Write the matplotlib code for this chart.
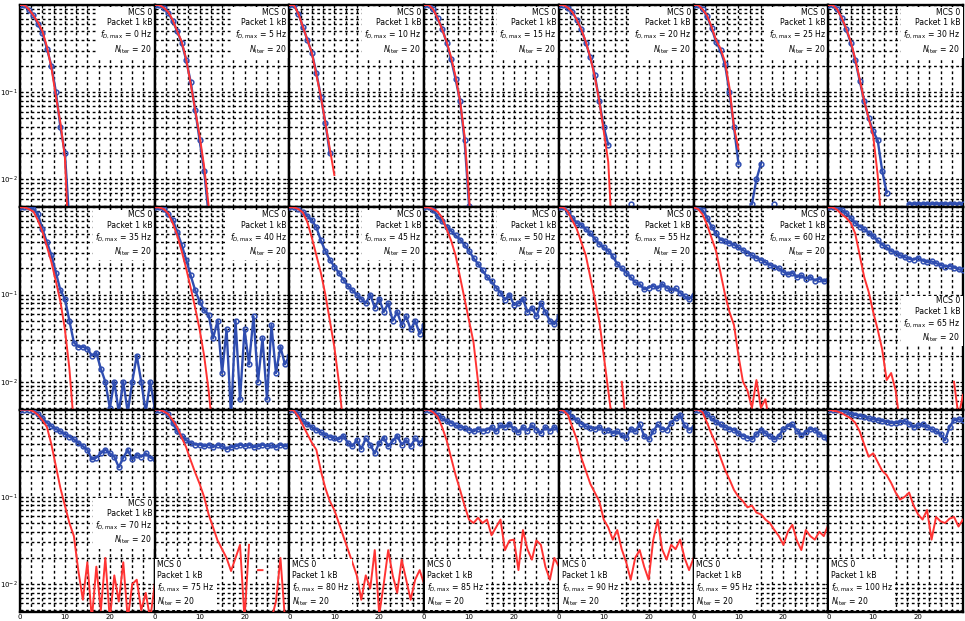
import numpy as np
import matplotlib
matplotlib.use("Agg")
import matplotlib.pyplot as plt
from matplotlib.ticker import MultipleLocator, LogLocator, NullFormatter, FixedLocator

# ==========================
# Data (log10 of packet error rate)
# ==========================

snr_db = list(range(0, 31))
doppler_hz = [0, 5, 10, 15, 20, 25, 30,
              35, 40, 45, 50, 55, 60, 65,
              70, 75, 80, 85, 90, 95, 100]
nan = float("nan")

red_00 = [0, 0, -0.05, -0.12, -0.2, -0.3, -0.48, -0.72, -1.05, -1.35, -1.75, -2.9]
blue_00 = [0, 0, -0.06, -0.12, -0.22, -0.32, -0.5, -0.7, -1.0, -1.4, -1.7, -2.5]
red_05 = [0, 0, -0.03, -0.08, -0.17, -0.3, -0.42, -0.62, -0.9, -1.2, -1.5, -1.85, -2.3, -2.9]
blue_05 = [0, 0, -0.03, -0.09, -0.18, -0.3, -0.43, -0.63, -0.88, -1.2, -1.55, -1.9, -2.4]
red_10 = [0, 0, -0.1, -0.25, -0.4, -0.55, -0.8, -1.05, -1.35, -1.65, -1.95]
blue_10 = [0, 0, -0.1, -0.25, -0.4, -0.55, -0.78, -1.05, -1.35, -1.7]
red_15 = [0, 0, -0.05, -0.15, -0.28, -0.42, -0.6, -0.82, -1.1, -1.5, -2.2, -3.0]
blue_15 = [0, 0, -0.05, -0.15, -0.27, -0.43, -0.62, -0.85, -1.1, -1.55, -2.3]
red_20 = [0, 0, -0.03, -0.08, -0.17, -0.28, -0.42, -0.6, -0.82, -1.1, -1.45, -1.8, -2.8]
blue_20 = [0, 0, -0.03, -0.08, -0.17, -0.28, -0.43, -0.6, -0.8, -1.1, -1.4, -1.6,
           nan, nan, nan, nan, -2.28]
red_25 = [0, 0, -0.05, -0.12, -0.25, -0.4, -0.5, -0.65, -0.95, -1.4, -1.65]
blue_25 = [0, 0, -0.05, -0.13, -0.26, -0.42, -0.52, -0.68, -1.0, -1.4, -1.82,
           nan, nan, -2.28, -2.0, -1.82, nan, nan, -2.28]
red_30 = [0, 0, -0.05, -0.15, -0.27, -0.42, -0.62, -0.85, -1.1, -1.3, -1.5, -1.95, -2.6]
blue_30 = [0, 0, -0.05, -0.15, -0.28, -0.43, -0.63, -0.87, -1.1, -1.3, -1.45, -1.55, -1.9, -2.15,
           nan, nan, nan, nan, -2.28, -2.28, -2.28, -2.28, -2.28, -2.28, -2.28, -2.28,
           -2.28, -2.28, -2.28, -2.28, -2.28]

red_35 = [0, 0, -0.02, -0.05, -0.15, -0.28, -0.45, -0.63, -0.85, -1.08, -1.4, -1.85, -2.5]
blue_35 = [0, 0, 0, -0.02, -0.08, -0.25, -0.4, -0.55, -0.75, -0.95, -1.05, -1.3, -1.55, -1.6,
           -1.6, -1.62, -1.7, -1.67, -1.85, -2.0, -2.3, -2.0, -2.35, -2.0, -2.35, -2.0,
           -1.7, -2.0, -2.35, -2.0, -2.3]
red_40 = [0, 0, -0.02, -0.07, -0.18, -0.32, -0.5, -0.7, -0.92, -1.15, -1.4, -1.7, -2.1, -2.6]
blue_40 = [0, 0, -0.02, -0.08, -0.14, -0.28, -0.43, -0.6, -0.78, -0.95, -1.08, -1.18, -1.23,
           -1.5, -1.3, -1.9, -1.4, -2.4, -1.3, -2.2, -1.4, -1.8, -1.25, -2.0, -1.5, -2.2,
           -1.35, -1.9, -1.6, -1.8, -1.7]
red_45 = [0, 0, -0.02, -0.06, -0.17, -0.35, -0.55, -0.75, -1.0, -1.3, -1.6, -2.0, -2.5]
blue_45 = [0, 0, -0.02, -0.05, -0.1, -0.15, -0.23, -0.38, -0.5, -0.6, -0.68, -0.75, -0.83,
           -0.9, -0.95, -1.0, -1.05, -1.1, -1.0, -1.15, -1.05, -1.2, -1.1, -1.3, -1.2,
           -1.35, -1.25, -1.4, -1.3, -1.45, -1.35]
red_50 = [0, 0, -0.02, -0.05, -0.12, -0.25, -0.38, -0.55, -0.8, -1.05, -1.3, -1.55, -2.0, -2.5]
blue_50 = [0, 0, -0.03, -0.1, -0.16, -0.22, -0.27, -0.32, -0.37, -0.43, -0.5, -0.58, -0.65,
           -0.72, -0.8, -0.85, -0.92, -0.98, -1.06, -1.0, -1.12, -1.1, -1.05, -1.2, -1.15,
           -1.25, -1.1, -1.2, -1.3, -1.34, -1.25]
red_55 = [0, 0, -0.05, -0.15, -0.25, -0.4, -0.55, -0.8, -1.05, -1.3, -1.7, -2.1, -2.5,
          nan, -2.0, -2.5]
blue_55 = [0, 0, -0.05, -0.12, -0.18, -0.2, -0.25, -0.3, -0.36, -0.42, -0.46, -0.5, -0.56,
           -0.65, -0.7, -0.75, -0.8, -0.86, -0.88, -0.94, -0.92, -0.9, -0.93, -0.88, -0.92,
           -0.95, -0.93, -0.98, -1.02, -1.05, -1.0]
red_60 = [0, -0.02, -0.08, -0.2, -0.35, -0.5, -0.75, -1.0, -1.2, -1.35, -1.7, -2.0, -2.1,
          -2.3, -1.98, -2.3, -2.2, -2.5]
blue_60 = [0, 0, -0.03, -0.12, -0.22, -0.3, -0.37, -0.39, -0.41, -0.43, -0.46, -0.49, -0.52,
           -0.55, -0.58, -0.6, -0.63, -0.66, -0.68, -0.7, -0.74, -0.77, -0.75, -0.8, -0.78,
           -0.82, -0.8, -0.84, -0.82, -0.85, -0.83]
red_65 = [0, 0, -0.03, -0.08, -0.12, -0.18, -0.3, -0.55, -0.8, -0.97, -1.2, -1.4, -1.63,
          -1.98, -1.9, -2.1, -2.5, nan, nan, nan, nan, nan, nan, nan, nan, nan, nan, nan,
          -2.0, -2.4, -2.15]
blue_65 = [0, 0, 0, -0.03, -0.07, -0.12, -0.18, -0.22, -0.25, -0.29, -0.33, -0.38, -0.43,
           -0.46, -0.5, -0.52, -0.55, -0.57, -0.59, -0.6, -0.58, -0.61, -0.63, -0.62, -0.64,
           -0.66, -0.68, -0.67, -0.69, -0.71, -0.72]

red_70 = [0, 0, 0, -0.02, -0.06, -0.12, -0.2, -0.4, -0.65, -0.9, -1.1, -1.3, -1.45, -1.85,
          -2.18, -1.75, -2.4, -1.8, -2.3, -1.7, -2.4, -1.9, -2.2, -1.75, -2.4, -2.0, -1.95,
          -2.3, -2.1, -2.4, -2.0]
blue_70 = [0, 0, 0, -0.01, -0.05, -0.1, -0.15, -0.19, -0.22, -0.25, -0.28, -0.31, -0.34,
           -0.38, -0.42, -0.46, -0.57, -0.55, -0.5, -0.46, -0.5, -0.54, -0.66, -0.55, -0.46,
           -0.57, -0.52, -0.54, -0.5, -0.55, -0.57]
red_75 = [0, 0, -0.02, -0.05, -0.12, -0.2, -0.32, -0.43, -0.58, -0.72, -0.85, -1.0, -1.2,
          -1.35, -1.5, -1.6, -1.7, -1.85, -1.7, -1.55, -2.4, -1.55, nan, -1.84, -1.84, nan,
          -2.4, -2.2, -1.7, -2.4]
blue_75 = [0, 0, -0.01, -0.05, -0.15, -0.25, -0.3, -0.35, -0.38, -0.4, -0.4, -0.42, -0.4,
           -0.43, -0.4, -0.42, -0.45, -0.43, -0.42, -0.4, -0.42, -0.4, -0.43, -0.42, -0.4,
           -0.42, -0.41, -0.43, -0.4, -0.42, -0.41]
red_80 = [0, -0.01, -0.08, -0.18, -0.28, -0.38, -0.46, -0.7, -0.9, -1.05, -1.15, -1.3, -1.45,
          -1.6, -1.75, -1.9, -2.18, -1.9, -2.05, -1.61, -2.35, -2.0, -1.61, -1.9, -2.1, -1.72,
          -1.95, -2.18, -1.95, -1.84, -2.0]
blue_80 = [0, 0, -0.05, -0.13, -0.17, -0.2, -0.23, -0.26, -0.29, -0.31, -0.33, -0.34, -0.3,
           -0.38, -0.42, -0.35, -0.45, -0.33, -0.4, -0.5, -0.38, -0.32, -0.42, -0.36, -0.3,
           -0.4, -0.35, -0.42, -0.33, -0.38, -0.34]
red_85 = [0, 0, -0.03, -0.08, -0.2, -0.35, -0.55, -0.75, -0.92, -1.1, -1.26, -1.3, -1.24,
          -1.3, -1.26, -1.44, -1.35, -1.26, -1.61, -1.5, -1.49, -1.84, -1.38, -1.6, -1.72,
          -1.5, -1.55, -1.8, -1.95, -1.7, -1.8]
blue_85 = [0, 0, -0.02, -0.06, -0.1, -0.13, -0.15, -0.18, -0.2, -0.21, -0.23, -0.25, -0.22,
           -0.24, -0.23, -0.2, -0.25, -0.18, -0.2, -0.17, -0.22, -0.26, -0.2, -0.24, -0.18,
           -0.23, -0.27, -0.2, -0.24, -0.2, -0.23]
red_90 = [0, -0.01, -0.06, -0.2, -0.34, -0.55, -0.7, -0.85, -0.95, -1.05, -1.26, -1.35, -1.49,
          -1.38, -1.6, -1.75, -1.95, -1.7, -1.61, -1.8, -1.95, -1.5, -1.26, -1.6, -1.72, -1.55,
          -1.6, -1.49, -1.7, -1.84, -1.7]
blue_90 = [0, 0, -0.02, -0.08, -0.12, -0.16, -0.19, -0.21, -0.22, -0.2, -0.24, -0.23, -0.27,
           -0.25, -0.29, -0.32, -0.22, -0.25, -0.17, -0.3, -0.34, -0.25, -0.17, -0.22, -0.23,
           -0.15, -0.1, -0.06, -0.18, -0.23, -0.2]
red_95 = [0, 0, -0.03, -0.15, -0.28, -0.4, -0.55, -0.69, -0.8, -0.92, -1.0, -1.05, -1.12,
          -1.1, -1.18, -1.2, -1.26, -1.3, -1.38, -1.45, -1.55, -1.4, -1.32, -1.5, -1.61,
          -1.38, -1.45, -1.49, -1.4, -1.45, -1.32]
blue_95 = [0, 0, -0.02, -0.05, -0.1, -0.14, -0.17, -0.2, -0.22, -0.23, -0.27, -0.3, -0.32,
           -0.34, -0.28, -0.23, -0.27, -0.3, -0.34, -0.3, -0.22, -0.19, -0.17, -0.24, -0.29,
           -0.26, -0.22, -0.23, -0.28, -0.31, -0.34]
red_100 = [0, -0.01, -0.02, -0.04, -0.07, -0.1, -0.15, -0.25, -0.4, -0.54, -0.5, -0.6, -0.7,
           -0.75, -0.84, -0.95, -1.03, -1.0, -0.95, -1.1, -1.2, -1.26, -1.15, -1.49, -1.23,
           -1.28, -1.3, -1.25, -1.23, -1.34, -1.26]
blue_100 = [0, 0, 0, -0.01, -0.03, -0.05, -0.06, -0.07, -0.08, -0.1, -0.11, -0.12, -0.13,
            -0.14, -0.15, -0.15, -0.14, -0.13, -0.16, -0.2, -0.18, -0.17, -0.2, -0.22, -0.25,
            -0.28, -0.35, -0.2, -0.12, -0.11, -0.12]

red_curves = [red_00, red_05, red_10, red_15, red_20, red_25, red_30,
              red_35, red_40, red_45, red_50, red_55, red_60, red_65,
              red_70, red_75, red_80, red_85, red_90, red_95, red_100]
blue_curves = [blue_00, blue_05, blue_10, blue_15, blue_20, blue_25, blue_30,
               blue_35, blue_40, blue_45, blue_50, blue_55, blue_60, blue_65,
               blue_70, blue_75, blue_80, blue_85, blue_90, blue_95, blue_100]

# where the text box sits in each panel
box_spot = ["tr"] * 13 + ["mr", "mr"] + ["bl"] * 6


def per_values(vals):
    arr = np.full(len(snr_db), np.nan)
    arr[:len(vals)] = vals
    return 10.0 ** arr


# ==========================
# Figure
# ==========================

W, H = 965, 621
fig = plt.figure(figsize=(W / 100, H / 100), dpi=100)

left_px, right_px = 20, 963
top_px, bottom_px = 5, 612
pw = (right_px - left_px) / 7
ph = (bottom_px - top_px) / 3

red = "#ff3333"
blue = "#2f4db0"

for i in range(21):
    r, c = divmod(i, 7)
    ax = fig.add_axes([(left_px + c * pw) / W,
                       1 - (top_px + (r + 1) * ph) / H,
                       pw / W, ph / H])

    ax.semilogy(snr_db, per_values(blue_curves[i]), color=blue, linewidth=1.7,
                marker="o", markersize=3.4, markerfacecolor="none",
                markeredgewidth=1.1, zorder=3)
    ax.semilogy(snr_db, per_values(red_curves[i]), color=red, linewidth=1.4, zorder=4)

    ax.set_xlim(0, 30)
    ax.set_ylim(10 ** -2.32, 1)
    ax.xaxis.set_major_locator(FixedLocator([0, 10, 20]))
    ax.xaxis.set_minor_locator(MultipleLocator(2.5))
    ax.yaxis.set_major_locator(FixedLocator([1e-2, 1e-1]))
    ax.yaxis.set_minor_locator(LogLocator(base=10, subs=np.arange(1, 10)))
    ax.yaxis.set_minor_formatter(NullFormatter())

    ax.grid(True, which="both", color="black", linestyle=(0, (2, 2)), linewidth=1.0)
    ax.set_axisbelow(True)

    for s in ax.spines.values():
        s.set_linewidth(1.7)
        s.set_color("black")

    ax.tick_params(which="both", direction="in", top=True, right=True,
                   labelsize=5, length=2, pad=1.5)
    if c != 0:
        ax.tick_params(labelleft=False)
    if r != 2:
        ax.tick_params(labelbottom=False)

    label = ("MCS 0\nPacket 1 kB\n"
             + r"$f_{D,\max}$ = " + f"{doppler_hz[i]} Hz\n"
             + r"$N_{\rm iter}$ = 20")
    spot = box_spot[i]
    if spot == "tr":
        x, y, ha, va = 0.98, 0.985, "right", "top"
    elif spot == "mr":
        x, y, ha, va = 0.98, 0.56, "right", "top"
    else:
        x, y, ha, va = 0.02, 0.02, "left", "bottom"
    ax.text(x, y, label, transform=ax.transAxes, ha=ha, va=va,
            multialignment=ha, fontsize=5.6, linespacing=1.2, zorder=6,
            bbox=dict(boxstyle="square,pad=0.3", facecolor="white", edgecolor="none"))

fig.savefig("out.png", dpi=100)
